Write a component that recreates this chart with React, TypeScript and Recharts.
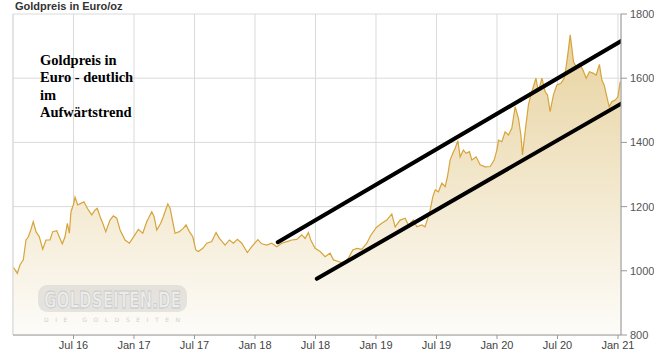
import {
  Area,
  CartesianGrid,
  ComposedChart,
  Line,
  ReferenceLine,
  XAxis,
  YAxis,
} from "recharts";

// months since 1 Jan 2016
const months = [
  0.03, 0.43, 0.69, 1.02, 1.29, 1.52, 1.76, 2.01, 2.28, 2.61, 2.95, 3.27, 3.67, 3.94, 4.34,
  4.59, 4.89, 5.16, 5.39, 5.59, 5.75, 5.98, 6.15, 6.42, 6.72, 7.04, 7.37, 7.81, 8.13, 8.36,
  8.63, 8.9, 9.2, 9.62, 9.95, 10.29, 10.62, 11.11, 11.54, 11.93, 12.43, 12.87, 13.26, 13.76,
  13.99, 14.26, 14.65, 14.91, 15.35, 15.58, 15.84, 16.07, 16.5, 16.89, 17.16, 17.49, 17.83,
  18.13, 18.38, 18.82, 19.22, 19.71, 20.14, 20.47, 21.03, 21.46, 21.86, 22.25, 22.69, 23.24,
  23.68, 24.28, 24.67, 25.17, 25.66, 26.16, 26.66, 27.15, 27.65, 28.14, 28.64, 28.97, 29.3,
  29.53, 29.96, 30.46, 30.95, 31.45, 31.78, 32.27, 32.77, 33.26, 33.7, 34.1, 34.59, 35.09,
  35.47, 36.04, 36.57, 37.07, 37.57, 37.9, 38.39, 38.89, 39.22, 39.71, 40.05, 40.55, 40.87,
  41.1, 41.37, 41.64, 41.87, 42.19, 42.53, 42.86, 43.09, 43.35, 43.62, 43.85, 44.12, 44.35,
  44.67, 44.94, 45.27, 45.51, 45.93, 46.33, 46.83, 47.32, 47.72, 47.99, 48.15, 48.48, 48.81,
  49.14, 49.47, 49.8, 50.13, 50.37, 50.53, 50.79, 51.12, 51.36, 51.62, 51.86, 52.11, 52.45,
  52.78, 53.01, 53.27, 53.6, 53.94, 54.34, 54.66, 54.86, 55.06, 55.26, 55.43, 55.59, 55.85,
  56.18, 56.52, 56.85, 57.17, 57.57, 57.84, 58.16, 58.4, 58.63, 58.9, 59.13, 59.39, 59.72,
  59.99, 60.22,
];

// Goldpreis in Euro/oz
const prices = [
  1011, 992, 1018, 1034, 1096, 1106, 1127, 1153, 1122, 1106, 1067, 1096, 1096, 1122, 1125,
  1106, 1084, 1106, 1148, 1117, 1184, 1205, 1229, 1205, 1210, 1215, 1195, 1174, 1189, 1195,
  1169, 1148, 1122, 1158, 1171, 1164, 1127, 1096, 1086, 1104, 1129, 1117, 1153, 1184,
  1169, 1127, 1148, 1169, 1208, 1195, 1153, 1117, 1122, 1132, 1143, 1122, 1106,
  1065, 1060, 1070, 1086, 1091, 1119, 1101, 1080, 1096, 1086, 1098, 1086, 1057,
  1075, 1097, 1084, 1080, 1086, 1075, 1086, 1091, 1096, 1098, 1112, 1101, 1119,
  1096, 1070, 1060, 1044, 1055, 1034, 1029, 1023, 1039, 1065, 1070, 1067, 1086,
  1110, 1135, 1148, 1158, 1177, 1137, 1158, 1164, 1143, 1158, 1137, 1143, 1137,
  1160, 1189, 1231, 1252, 1246, 1273, 1262, 1293, 1345, 1366, 1382, 1405, 1355,
  1376, 1366, 1371, 1345, 1355, 1330, 1324, 1325, 1345, 1376, 1407, 1402, 1433,
  1423, 1444, 1511, 1475, 1423, 1361, 1433, 1517, 1548, 1574, 1600, 1558, 1600,
  1558, 1548, 1496, 1548, 1579, 1584, 1600, 1636, 1683, 1735, 1693, 1651, 1636,
  1646, 1626, 1600, 1620, 1615, 1610, 1643, 1594, 1579, 1542, 1511, 1527, 1532,
  1542, 1589,
];

const xTicks = [6, 12, 18, 24, 30, 36, 42, 48, 54, 60];
const xTickLabels = [
  "Jul 16", "Jan 17", "Jul 17", "Jan 18", "Jul 18",
  "Jan 19", "Jul 19", "Jan 20", "Jul 20", "Jan 21",
];
const yTicks = [800, 1000, 1200, 1400, 1600, 1800];

// hand-drawn trend channel (start / end in months and EUR)
const upperTrend = [
  { t: 26.26, v: 1089 },
  { t: 60.49, v: 1719 },
];
const lowerTrend = [
  { t: 30.13, v: 975 },
  { t: 60.49, v: 1524 },
];

const noteLines = ["Goldpreis in", "Euro - deutlich", "im", "Aufwärtstrend"];

const data = months.map((t, i) => ({ t, price: prices[i] }));

const axisTick = { fontSize: 11, fill: "#444", fontFamily: "Liberation Sans, Arial, sans-serif" };

export default function App() {
  return (
    <div style={{ position: "absolute", left: 0, top: 0, width: 654, height: 357, background: "#fff" }}>
      <ComposedChart
        width={654}
        height={357}
        data={data}
        margin={{ top: 14, right: 0, bottom: 0, left: 13 }}
      >
        <defs>
          <linearGradient id="goldFill" x1="0" y1="0" x2="0" y2="1">
            <stop offset="0%" stopColor="#e8d3a0" />
            <stop offset="100%" stopColor="#fdfcf9" />
          </linearGradient>
        </defs>
        <CartesianGrid stroke="#dadada" strokeWidth={1} />
        <XAxis
          dataKey="t"
          type="number"
          domain={[0, 60.3]}
          ticks={xTicks}
          tickFormatter={(v) => xTickLabels[xTicks.indexOf(v)] ?? ""}
          tick={axisTick}
          tickSize={4}
          tickMargin={2}
          height={22}
          stroke="#999"
          allowDataOverflow
        />
        <YAxis
          orientation="right"
          type="number"
          domain={[800, 1800]}
          ticks={yTicks}
          tick={{ ...axisTick, fill: "#555", textAnchor: "start" }}
          tickSize={6}
          tickMargin={3}
          width={33}
          stroke="#999"
        />
        <ReferenceLine x={0} stroke="#dadada" />
        <Area
          type="linear"
          dataKey="price"
          stroke="#d6a43a"
          strokeWidth={1.2}
          fill="url(#goldFill)"
          fillOpacity={1}
          dot={false}
          activeDot={false}
          isAnimationActive={false}
        />
        <Line
          data={upperTrend}
          dataKey="v"
          stroke="#000"
          strokeWidth={4}
          strokeLinecap="round"
          dot={false}
          activeDot={false}
          isAnimationActive={false}
        />
        <Line
          data={lowerTrend}
          dataKey="v"
          stroke="#000"
          strokeWidth={4}
          strokeLinecap="round"
          dot={false}
          activeDot={false}
          isAnimationActive={false}
        />
      </ComposedChart>
      <svg
        width={654}
        height={357}
        style={{ position: "absolute", left: 0, top: 0, pointerEvents: "none" }}
      >
        <text x={15} y={10} fontFamily="Liberation Sans, Arial, sans-serif" fontSize={11} fontWeight="bold" fill="#333">
          Goldpreis in Euro/oz
        </text>
        {noteLines.map((line, i) => (
          <text
            key={line}
            x={40}
            y={65 + i * 17.4}
            fontFamily="Liberation Serif, Times New Roman, serif"
            fontSize={14.5}
            fontWeight="bold"
            fill="#000"
          >
            {line}
          </text>
        ))}
        <rect x={38} y={285} width={149} height={27} rx={9} fill="#bdbdbd" fillOpacity={0.35} />
        <text
          x={44}
          y={308}
          textLength={137}
          lengthAdjust="spacingAndGlyphs"
          fontFamily="DejaVu Sans, sans-serif"
          fontSize={23}
          fontWeight="bold"
          fill="#ececec"
          stroke="#c8c8c8"
          strokeWidth={0.8}
        >
          GOLDSEITEN.DE
        </text>
        <text
          x={44}
          y={322}
          textLength={136}
          fontFamily="DejaVu Sans, sans-serif"
          fontSize={6}
          fill="#d0d0d0"
        >
          DIE GOLDSEITEN
        </text>
      </svg>
    </div>
  );
}
